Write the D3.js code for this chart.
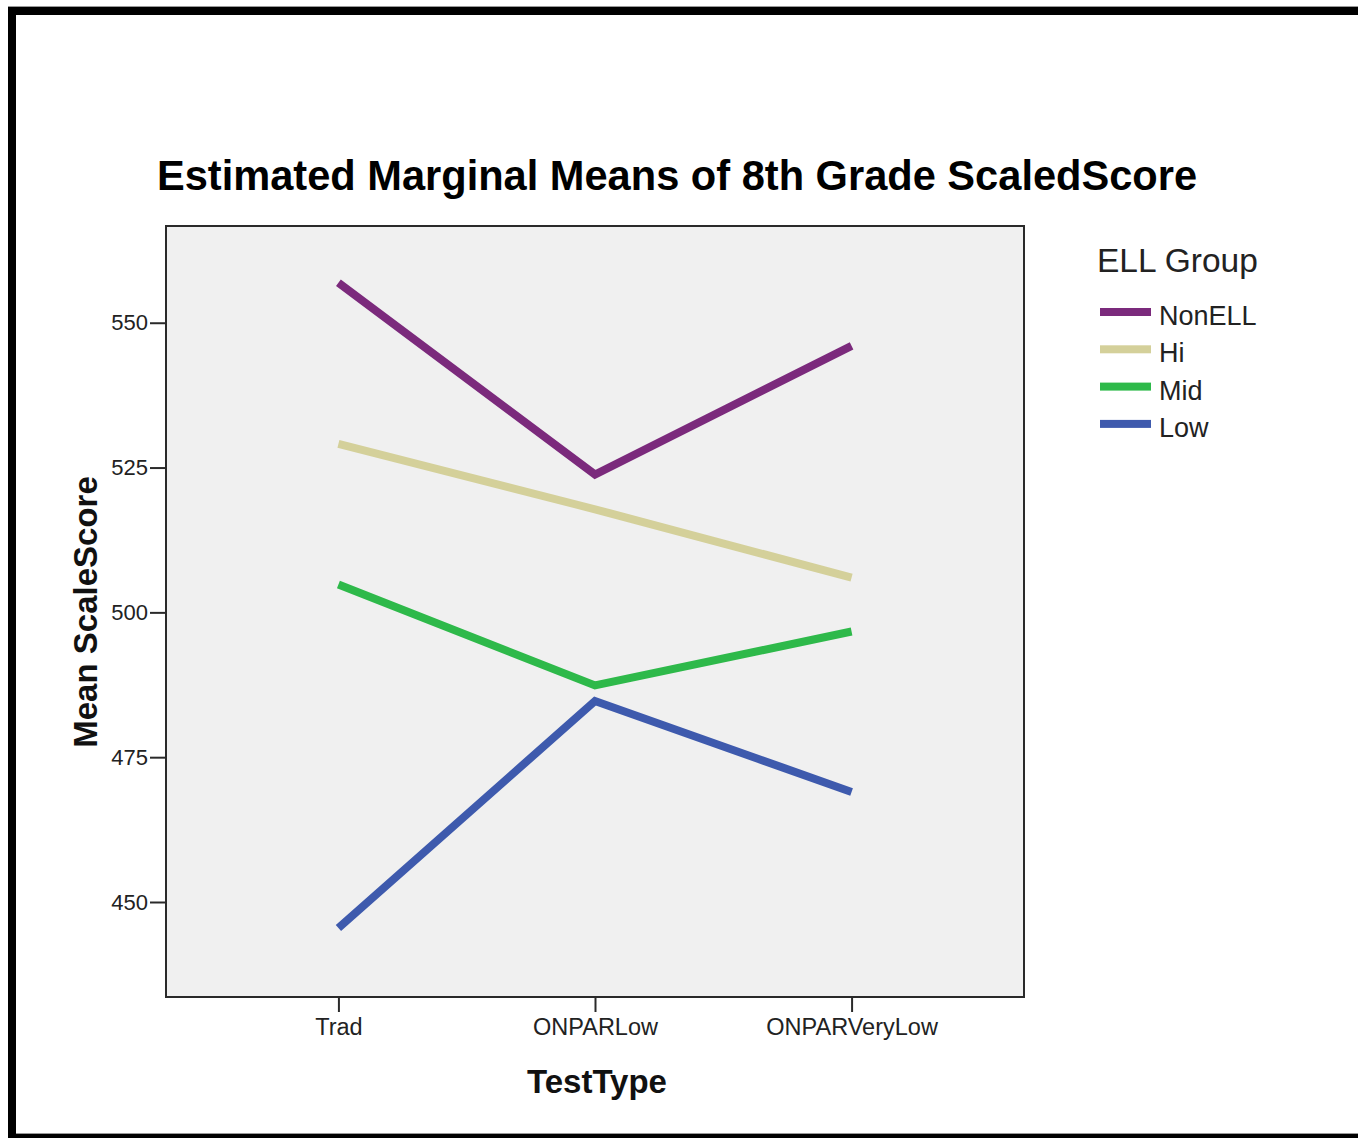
<!DOCTYPE html>
<html>
<head>
<meta charset="utf-8">
<script src="https://cdn.jsdelivr.net/npm/d3@7"></script>
<style>
  html, body { margin: 0; padding: 0; background: #fff; }
  svg { display: block; }
  text { font-family: "Liberation Sans", Arial, sans-serif; }
</style>
</head>
<body>
<svg id="chart" width="1358" height="1138"></svg>
<script>
const categories = ["Trad", "ONPARLow", "ONPARVeryLow"];
const seriesNames = ["NonELL", "Hi", "Mid", "Low"];
const nonELL = [556.9, 523.8, 546.0];
const hi = [529.1, 517.8, 506.0];
const mid = [504.8, 487.4, 496.7];
const low = [445.5, 484.7, 469.0];
const yTicks = [450, 475, 500, 525, 550];
const colors = ["#7b2a7c", "#d4d09a", "#2eb94a", "#3e5aad"];

const series = [nonELL, hi, mid, low].map((vals, i) => ({
  name: seriesNames[i], color: colors[i],
  values: vals.map((v, j) => ({cat: categories[j], v}))
}));

const svg = d3.select("#chart");
const W = 1358, H = 1138;

// outer frame
svg.append("rect").attr("x", 0).attr("y", 0).attr("width", W).attr("height", H).attr("fill", "#fff");
svg.append("rect").attr("x", 8).attr("y", 6).attr("width", W - 8).attr("height", 1).attr("fill", "#999");
svg.append("rect").attr("x", 8).attr("y", 7).attr("width", W - 8).attr("height", 8).attr("fill", "#000");
svg.append("rect").attr("x", 8).attr("y", 7).attr("width", 8).attr("height", H - 7).attr("fill", "#000");
svg.append("rect").attr("x", 16).attr("y", 1133).attr("width", W - 16).attr("height", 1).attr("fill", "#999");
svg.append("rect").attr("x", 16).attr("y", 1134).attr("width", W - 16).attr("height", 4).attr("fill", "#000");

const plot = {left: 166, top: 226, right: 1024, bottom: 997};

const x = d3.scalePoint().domain(categories)
  .range([plot.left, plot.right]).padding(0.672);
const y = d3.scaleLinear().domain([433.6, 566.7]).range([plot.bottom, plot.top]);

// plot background
svg.append("rect")
  .attr("x", plot.left).attr("y", plot.top)
  .attr("width", plot.right - plot.left).attr("height", plot.bottom - plot.top)
  .attr("fill", "#f0f0f0");

// lines
const line = d3.line().x(d => x(d.cat)).y(d => y(d.v));
svg.append("g").selectAll("path").data(series).join("path")
  .attr("d", d => line(d.values))
  .attr("fill", "none")
  .attr("stroke", d => d.color)
  .attr("stroke-width", 8)
  .attr("stroke-linecap", "butt")
  .attr("stroke-linejoin", "miter");

// plot frame
svg.append("rect")
  .attr("x", plot.left).attr("y", plot.top)
  .attr("width", plot.right - plot.left).attr("height", plot.bottom - plot.top)
  .attr("fill", "none").attr("stroke", "#2a2a2a").attr("stroke-width", 2);

// y axis
const yAxis = d3.axisLeft(y).tickValues(yTicks).tickSize(16).tickPadding(2).tickFormat(d3.format("d"));
const gy = svg.append("g").attr("transform", `translate(${plot.left},0)`).call(yAxis);
gy.select(".domain").remove();
gy.selectAll(".tick line").attr("stroke", "#2a2a2a").attr("stroke-width", 2);
gy.selectAll(".tick text").attr("font-size", 22).attr("fill", "#222")
  .attr("font-family", "Liberation Sans, Arial, sans-serif");

// x axis
const xAxis = d3.axisBottom(x).tickSize(15).tickPadding(6);
const gx = svg.append("g").attr("transform", `translate(0,${plot.bottom})`).call(xAxis);
gx.select(".domain").remove();
gx.selectAll(".tick line").attr("stroke", "#2a2a2a").attr("stroke-width", 2);
gx.selectAll(".tick text").attr("font-size", 23.5).attr("fill", "#222")
  .attr("font-family", "Liberation Sans, Arial, sans-serif");

// title
svg.append("text")
  .attr("x", 677).attr("y", 190)
  .attr("text-anchor", "middle")
  .attr("font-size", 41.6).attr("font-weight", "bold").attr("fill", "#000")
  .text("Estimated Marginal Means of 8th Grade ScaledScore");

// axis titles
svg.append("text")
  .attr("transform", "translate(97,612) rotate(-90)")
  .attr("text-anchor", "middle")
  .attr("font-size", 33).attr("font-weight", "bold").attr("fill", "#111")
  .text("Mean ScaleScore");

svg.append("text")
  .attr("x", 597).attr("y", 1093)
  .attr("text-anchor", "middle")
  .attr("font-size", 33).attr("font-weight", "bold").attr("fill", "#111")
  .text("TestType");

// legend
const lg = svg.append("g");
lg.append("text").attr("x", 1097).attr("y", 272)
  .attr("font-size", 33.5).attr("fill", "#222").text("ELL Group");
const item = lg.selectAll("g.item").data(series).join("g").attr("class", "item")
  .attr("transform", (d, i) => `translate(1100,${312 + i * 37.3})`);
item.append("rect").attr("x", 0).attr("y", -4).attr("width", 51).attr("height", 8)
  .attr("fill", d => d.color);
item.append("text").attr("x", 59).attr("y", 13)
  .attr("font-size", 27).attr("fill", "#222").text(d => d.name);
</script>
</body>
</html>
